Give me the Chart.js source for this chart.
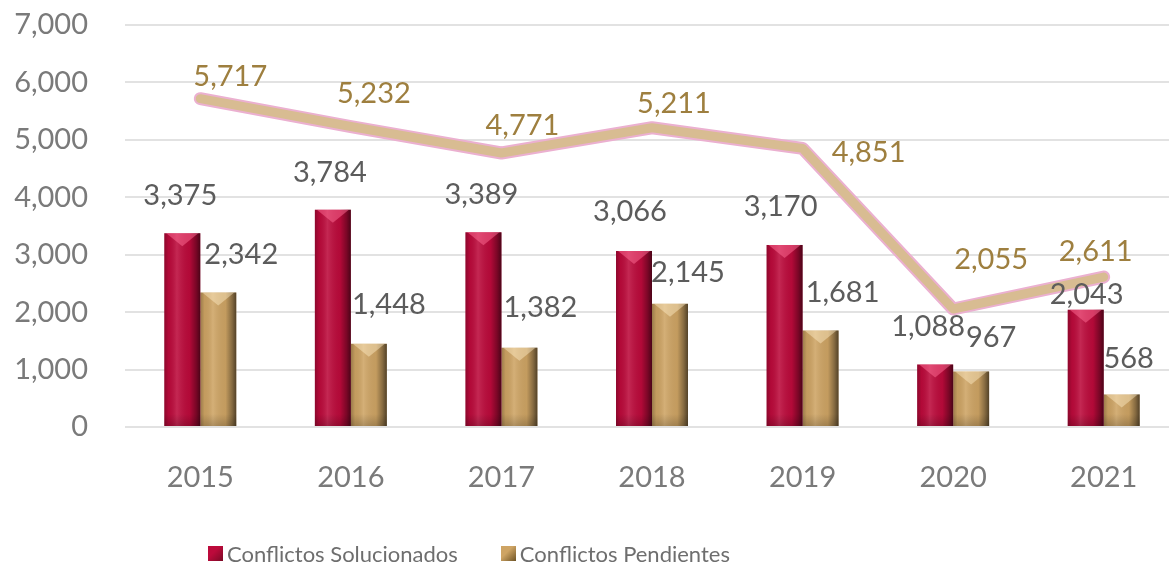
<!DOCTYPE html>
<html>
<head>
<meta charset="utf-8">
<script src="https://cdn.jsdelivr.net/npm/chart.js@4.4.1/dist/chart.umd.min.js"></script>
<style>
    html, body { margin: 0; padding: 0; background: #fff; overflow: hidden; }
    #wrap { position: relative; width: 1180px; height: 572px; }
    #legend { position: absolute; left: 208px; top: 540px; display: flex; align-items: center;
              font-family: Lato, "Open Sans", sans-serif; font-size: 22px; color: #6e6e6e; }
    #legend .item { display: flex; align-items: center; margin-right: 43px; }
    #legend .box { width: 15px; height: 15px; margin-right: 4px; }
</style>
</head>
<body>
<div id="wrap">
    <canvas id="chart"></canvas>
    <div id="legend"></div>
</div>
<script>
// datos
var years = ['2015', '2016', '2017', '2018', '2019', '2020', '2021'];
var solucionados = [3375, 3784, 3389, 3066, 3170, 1088, 2043];
var pendientes = [2342, 1448, 1382, 2145, 1681, 967, 568];
var totales = [5717, 5232, 4771, 5211, 4851, 2055, 2611];
var yTicks = [0, 1000, 2000, 3000, 4000, 5000, 6000, 7000];

// desplazamiento de etiquetas (px) respecto al punto / tope de barra
var solOffX = [-2, -3, -2, -4, -4, -7, 1];
var solOffY = [-38, -37, -38, -39, -38, -38, -15];
var penOffX = [23, 20, 21, 18, 22, 20, 7];
var penOffY = [-38, -39, -40, -31, -38, -34, -36];
var totOffX = [30, 23, 21, 22, 66, 38, -8];
var totOffY = [-22, -33, -27, -24, 4, -49, -25];

var FONT = 'Lato, "Open Sans", sans-serif';
var RED = '#bc0a3b';
var GOLD = '#cea464';
var TOP_SHINE = ['rgba(255,110,150,0.5)', 'rgba(255,238,200,0.45)'];

// sombreado tipo bisel encima de cada barra
var bevelPlugin = {
    id: 'bevel',
    afterDatasetDraw: function(chart, args) {
        var meta = args.meta;
        if (meta.type !== 'bar') return;
        var ctx = chart.ctx;
        ctx.save();
        meta.data.forEach(function(el) {
            var w = el.width, l = el.x - w / 2, r = el.x + w / 2;
            var top = el.y, bot = el.base, h = bot - top;
            var g = ctx.createLinearGradient(l, 0, r, 0);
            g.addColorStop(0, 'rgba(0,0,0,0.25)');
            g.addColorStop(0.12, 'rgba(0,0,0,0.05)');
            g.addColorStop(0.35, 'rgba(255,255,255,0.12)');
            g.addColorStop(0.7, 'rgba(0,0,0,0.05)');
            g.addColorStop(0.88, 'rgba(0,0,0,0.35)');
            g.addColorStop(1, 'rgba(0,0,0,0.6)');
            ctx.fillStyle = g;
            ctx.fillRect(l, top, w, h);
            var v = ctx.createLinearGradient(0, bot - 12, 0, bot);
            v.addColorStop(0, 'rgba(0,0,0,0)');
            v.addColorStop(1, 'rgba(0,0,0,0.18)');
            ctx.fillStyle = v;
            ctx.fillRect(l, bot - 12, w, 12);
            var th = Math.min(13, h / 2);
            ctx.beginPath();
            ctx.moveTo(l + 2, top);
            ctx.lineTo(r - 2, top);
            ctx.lineTo(el.x, top + th);
            ctx.closePath();
            ctx.fillStyle = TOP_SHINE[args.index];
            ctx.fill();
        });
        ctx.restore();
    }
};

// etiquetas de valores
var labelPlugin = {
    id: 'valueLabels',
    afterDatasetsDraw: function(chart) {
        var ctx = chart.ctx;
        var sets = [
            { idx: 0, vals: solucionados, dx: solOffX, dy: solOffY, color: '#5c5c5c' },
            { idx: 1, vals: pendientes, dx: penOffX, dy: penOffY, color: '#5c5c5c' },
            { idx: 3, vals: totales, dx: totOffX, dy: totOffY, color: '#9e7f3f' }
        ];
        ctx.save();
        ctx.font = '29px ' + FONT;
        ctx.textAlign = 'center';
        ctx.textBaseline = 'middle';
        sets.forEach(function(s) {
            var meta = chart.getDatasetMeta(s.idx);
            meta.data.forEach(function(el, i) {
                ctx.fillStyle = s.color;
                ctx.fillText(s.vals[i].toLocaleString('en-US'), el.x + s.dx[i], el.y + s.dy[i]);
            });
        });
        ctx.restore();
    }
};

var chart = new Chart(document.getElementById('chart'), {
    type: 'bar',
    data: {
        labels: years,
        datasets: [
            { label: 'Conflictos Solucionados', data: solucionados, backgroundColor: RED, order: 2,
              categoryPercentage: 0.478, barPercentage: 1 },
            { label: 'Conflictos Pendientes', data: pendientes, backgroundColor: GOLD, order: 2,
              categoryPercentage: 0.478, barPercentage: 1 },
            { type: 'line', label: 'total_borde', data: totales, borderColor: '#ebb0d0', borderWidth: 13,
              pointRadius: 0, borderCapStyle: 'round', borderJoinStyle: 'round', order: 1 },
            { type: 'line', label: 'total', data: totales, borderColor: '#d8bc92', borderWidth: 9,
              pointRadius: 0, borderCapStyle: 'round', borderJoinStyle: 'round', order: 0 }
        ]
    },
    options: {
        responsive: true,
        maintainAspectRatio: false,
        animation: false,
        locale: 'en-US',
        layout: { autoPadding: false, padding: { top: 25, right: 1, left: 0, bottom: 0 } },
        plugins: { legend: { display: false }, tooltip: { enabled: false } },
        scales: {
            x: {
                grid: { display: false },
                border: { display: false },
                ticks: { color: '#7a7a7a', font: { family: FONT, size: 29 }, padding: 25 },
                afterFit: function(scale) { scale.height = 145; }
            },
            y: {
                min: 0, max: 7000,
                afterBuildTicks: function(scale) { scale.ticks = yTicks.map(function(v) { return { value: v }; }); },
                grid: { color: '#e2e2e2', lineWidth: 2, drawTicks: false },
                border: { display: false },
                ticks: { color: '#7a7a7a', font: { family: FONT, size: 29 }, padding: 37 },
                afterFit: function(scale) { scale.width = 125; scale.paddingTop = 0; scale.paddingBottom = 0; }
            }
        }
    },
    plugins: [bevelPlugin, labelPlugin]
});

// leyenda
var legendEl = document.getElementById('legend');
[[0, RED, '#7a0a26'], [1, GOLD, '#6e5426']].forEach(function(p) {
    var ds = chart.data.datasets[p[0]];
    var item = document.createElement('div');
    item.className = 'item';
    var box = document.createElement('div');
    box.className = 'box';
    box.style.background = 'linear-gradient(135deg, ' + p[1] + ' 40%, ' + p[2] + ')';
    var txt = document.createElement('span');
    txt.textContent = ds.label;
    item.appendChild(box);
    item.appendChild(txt);
    legendEl.appendChild(item);
});
</script>
</body>
</html>
